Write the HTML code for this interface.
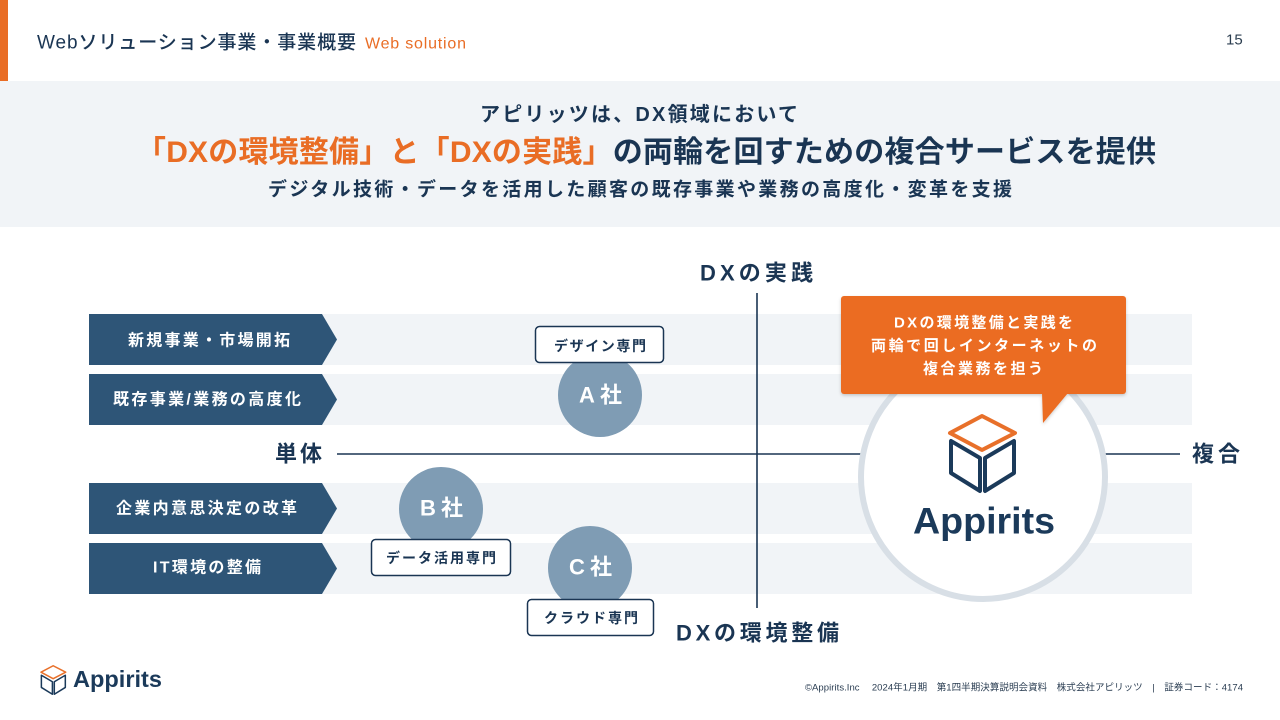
<!DOCTYPE html>
<html><head><meta charset="utf-8">
<style>
html,body{margin:0;padding:0;background:#fff;}
svg{display:block;}
text{font-family:"Liberation Sans","Noto Sans CJK JP",sans-serif;dominant-baseline:central;}
.b{font-weight:bold;}
</style></head>
<body>
<svg width="1280" height="720" viewBox="0 0 1280 720" xmlns="http://www.w3.org/2000/svg">
<defs>
<g id="cube">
<polygon points="32,2 65,19 32,36 0,19" fill="none" stroke="#e8702a" stroke-width="4" stroke-linejoin="round"/>
<polygon points="1,27 1,59 30,77 30,44" fill="none" stroke="#1b3a5a" stroke-width="4" stroke-linejoin="round"/>
<polygon points="64,27 64,59 35,77 35,44" fill="none" stroke="#1b3a5a" stroke-width="4" stroke-linejoin="round"/>
</g>
<filter id="sh" x="-10%" y="-10%" width="120%" height="130%"><feDropShadow dx="0" dy="1.5" stdDeviation="1.5" flood-color="#000" flood-opacity="0.2"/></filter>
</defs>

<!-- header -->
<rect x="0" y="0" width="8" height="81" fill="#e96d25"/>
<text x="37" y="43" font-size="19" font-weight="500" fill="#1a3553" textLength="319" lengthAdjust="spacing">Webソリューション事業・事業概要</text>
<text x="365" y="44" font-size="16" fill="#e96d25" textLength="101" lengthAdjust="spacing">Web solution</text>
<text x="1226" y="40" font-size="15" fill="#2c3e50">15</text>

<rect x="0" y="81" width="1280" height="146" fill="#f1f4f7"/>
<text x="480" y="115" font-size="20" class="b" fill="#1a3553" textLength="318" lengthAdjust="spacing">アピリッツは、DX領域において</text>
<text x="136" y="152" font-size="30" class="b" textLength="1020" lengthAdjust="spacing"><tspan fill="#e96d25">「DXの環境整備」と「DXの実践」</tspan><tspan fill="#1a3553">の両輪を回すための複合サービスを提供</tspan></text>
<text x="268" y="190" font-size="19" class="b" fill="#1a3553" textLength="744" lengthAdjust="spacing">デジタル技術・データを活用した顧客の既存事業や業務の高度化・変革を支援</text>

<!-- bands -->
<rect x="89" y="314" width="1103" height="51" fill="#f1f4f7"/>
<rect x="89" y="374" width="1103" height="51" fill="#f1f4f7"/>
<rect x="89" y="483" width="1103" height="51" fill="#f1f4f7"/>
<rect x="89" y="543" width="1103" height="51" fill="#f1f4f7"/>

<!-- arrows -->
<polygon points="89,314 322,314 337,339.5 322,365 89,365" fill="#2e5577"/>
<polygon points="89,374 322,374 337,399.5 322,425 89,425" fill="#2e5577"/>
<polygon points="89,483 322,483 337,508.5 322,534 89,534" fill="#2e5577"/>
<polygon points="89,543 322,543 337,568.5 322,594 89,594" fill="#2e5577"/>
<text x="128" y="341" font-size="16" class="b" fill="#fff" textLength="162" lengthAdjust="spacing">新規事業・市場開拓</text>
<text x="113" y="400" font-size="16" class="b" fill="#fff" textLength="188" lengthAdjust="spacing">既存事業/業務の高度化</text>
<text x="116" y="509" font-size="16" class="b" fill="#fff" textLength="181" lengthAdjust="spacing">企業内意思決定の改革</text>
<text x="153" y="568" font-size="16" class="b" fill="#fff" textLength="108" lengthAdjust="spacing">IT環境の整備</text>

<!-- axes -->
<line x1="757" y1="293" x2="757" y2="608" stroke="#1a3553" stroke-width="1.6"/>
<line x1="337" y1="454" x2="1180" y2="454" stroke="#1a3553" stroke-width="1.6"/>
<text x="700" y="273" font-size="22" class="b" fill="#1a3553" textLength="113" lengthAdjust="spacing">DXの実践</text>
<text x="676" y="633" font-size="22" class="b" fill="#1a3553" textLength="163" lengthAdjust="spacing">DXの環境整備</text>
<text x="275" y="454" font-size="22" class="b" fill="#1a3553" textLength="47" lengthAdjust="spacing">単体</text>
<text x="1192" y="454" font-size="22" class="b" fill="#1a3553" textLength="48" lengthAdjust="spacing">複合</text>

<!-- company circles -->
<circle cx="600" cy="395" r="42" fill="#7f9cb4"/>
<text x="579" y="395" font-size="22" class="b" fill="#fff" textLength="43" lengthAdjust="spacing">A社</text>
<circle cx="441" cy="509" r="42" fill="#7f9cb4"/>
<text x="420" y="508" font-size="22" class="b" fill="#fff" textLength="43" lengthAdjust="spacing">B社</text>
<circle cx="590" cy="568" r="42" fill="#7f9cb4"/>
<text x="569" y="567" font-size="22" class="b" fill="#fff" textLength="43" lengthAdjust="spacing">C社</text>

<rect x="535.5" y="326.5" width="128" height="36" rx="4" fill="#fff" stroke="#1a3553" stroke-width="1.5"/>
<text x="554" y="346" font-size="14" class="b" fill="#1a3553" textLength="92" lengthAdjust="spacing">デザイン専門</text>
<rect x="371.5" y="539.5" width="139" height="36" rx="4" fill="#fff" stroke="#1a3553" stroke-width="1.5"/>
<text x="386" y="558" font-size="14" class="b" fill="#1a3553" textLength="110" lengthAdjust="spacing">データ活用専門</text>
<rect x="527.5" y="599.5" width="126" height="36" rx="4" fill="#fff" stroke="#1a3553" stroke-width="1.5"/>
<text x="544" y="618" font-size="14" class="b" fill="#1a3553" textLength="94" lengthAdjust="spacing">クラウド専門</text>

<!-- big circle -->
<circle cx="983" cy="477" r="122" fill="#fff" stroke="#d8dfe6" stroke-width="6"/>
<use href="#cube" transform="translate(950,414)"/>
<text x="913" y="521" font-size="37" class="b" fill="#1b3a5a" textLength="142" lengthAdjust="spacingAndGlyphs">Appirits</text>

<!-- callout -->
<g filter="url(#sh)">
<rect x="841" y="296" width="285" height="98" rx="3" fill="#eb6c22"/>
<polygon points="1042,393 1068,393 1043,423" fill="#eb6c22"/>
</g>
<text x="894" y="323" font-size="15" class="b" fill="#fff" textLength="179" lengthAdjust="spacing">DXの環境整備と実践を</text>
<text x="871" y="346" font-size="15" class="b" fill="#fff" textLength="226" lengthAdjust="spacing">両輪で回しインターネットの</text>
<text x="923" y="369" font-size="15" class="b" fill="#fff" textLength="120" lengthAdjust="spacing">複合業務を担う</text>

<!-- footer -->
<use href="#cube" transform="translate(41,665) scale(0.38)"/>
<text x="73" y="679" font-size="23" class="b" fill="#1b3a5a" textLength="89" lengthAdjust="spacingAndGlyphs">Appirits</text>
<text x="805" y="688" font-size="9.5" fill="#2a3d52" textLength="438" lengthAdjust="spacing" xml:space="preserve">©Appirits.Inc　 2024年1月期　第1四半期決算説明会資料　株式会社アピリッツ　|　証券コード：4174</text>
</svg>
</body></html>
